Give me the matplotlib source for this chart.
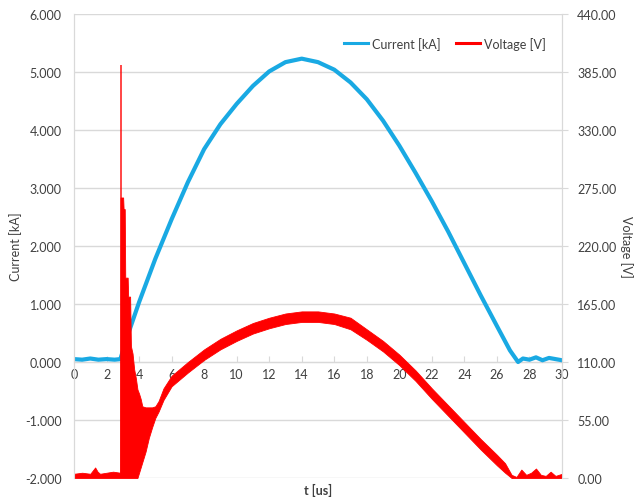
import numpy as np
import matplotlib
matplotlib.use('Agg')
import matplotlib.pyplot as plt
from matplotlib.lines import Line2D

plt.rcParams['font.family'] = ['Lato', 'DejaVu Sans']
plt.rcParams['axes.unicode_minus'] = False

# current trace [kA]
t_cur = [0.0, 0.5, 1.0, 1.5, 2.0, 2.5, 2.85, 3.35, 4.0, 5.0, 6.0, 7.0, 8.0, 9.0,
         10.0, 11.0, 12.0, 13.0, 14.0, 15.0, 16.0, 17.0, 18.0, 19.0, 20.0, 21.0,
         22.0, 23.0, 24.0, 25.0, 26.0, 26.8, 27.3, 27.6, 28.0, 28.4, 28.8, 29.2,
         29.6, 30.0]
i_cur = [0.05, 0.04, 0.06, 0.04, 0.05, 0.04, 0.05, 0.50, 1.03, 1.78, 2.46, 3.10,
         3.67, 4.10, 4.45, 4.76, 5.01, 5.17, 5.23, 5.17, 5.04, 4.82, 4.53, 4.16,
         3.73, 3.26, 2.77, 2.25, 1.70, 1.15, 0.62, 0.20, 0.00, 0.06, 0.04, 0.08,
         0.03, 0.07, 0.05, 0.03]

# voltage trace [V]: lower / upper edge of the noisy band
t_volt = [0.0, 0.5, 1.0, 1.3, 1.45, 1.6, 2.0, 2.4, 2.84, 2.86, 2.90, 3.02, 3.05,
          3.12, 3.15, 3.30, 3.33, 3.45, 3.50, 3.60, 3.70, 3.80, 3.90, 4.00, 4.10,
          4.20, 4.40, 4.60, 4.80, 5.00, 5.20, 5.50, 6.0, 7.0, 8.0, 9.0, 10.0,
          11.0, 12.0, 13.0, 14.0, 15.0, 16.0, 17.0, 18.0, 19.0, 20.0, 21.0, 22.0,
          23.0, 24.0, 25.0, 26.0, 26.5, 26.9, 27.2, 27.5, 27.8, 28.1, 28.4, 28.7,
          29.0, 29.3, 29.6, 30.0]
v_low = [0, 0, 0, 0, 0, 0, 0, 0, 0, 0, 0, 0, 0,
         0, 0, 0, 0, 0, 0, 0, 0, 0, 0, 5, 10,
         15, 25, 38, 48, 57, 63, 74, 87, 100, 112, 122, 130,
         137, 142, 146, 148, 148, 146, 141, 131, 120, 107, 92, 75,
         59, 43, 27, 12, 5, 0, 0, 0, 0, 0, 0, 0,
         0, 0, 0, 0]
v_high = [4, 5, 4, 10, 6, 4, 5, 6, 5, 266, 266, 266, 255,
          255, 190, 190, 172, 172, 125, 118, 103, 95, 84, 80, 75,
          68, 67, 67, 67, 68, 73, 85, 97, 110, 122, 132, 140,
          147, 152, 156, 158, 158, 156, 152, 141, 130, 117, 102, 85,
          69, 53, 37, 22, 14, 3, 1, 8, 3, 5, 9, 3,
          2, 6, 2, 4]
spike_t = 2.86
spike_v = 392

x_ticks = np.arange(0, 31, 2)
cur_ticks = np.arange(-2, 7, 1)
volt_ticks = np.arange(0, 441, 55)

blue = '#19a9e3'
red = '#ff0000'
grey = '#d9d9d9'
txt = '#404040'
fs = 9

fig = plt.figure(figsize=(6.35, 5.02), dpi=100)
ax = fig.add_axes([74 / 635, 1 - 479 / 502, 488 / 635, 464 / 502])
ax2 = ax.twinx()

ax.plot(t_cur, i_cur, color=blue, lw=3.0, solid_joinstyle='round')
ax2.fill_between(t_volt, v_low, v_high, color=red, lw=0.6, edgecolor=red)
ax2.vlines(spike_t, 0, spike_v, color=red, lw=1.2, alpha=0.85)

ax.set_xlim(0, 30)
ax.set_ylim(-2, 6)
ax2.set_ylim(0, 440)
ax.set_xticks(x_ticks)
ax.set_yticks(cur_ticks)
ax2.set_yticks(volt_ticks)
ax.set_yticklabels(['%.3f' % v for v in cur_ticks])
ax2.set_yticklabels(['%.2f' % v for v in volt_ticks])

ax.grid(axis='y', color=grey, lw=1.0)
ax.set_axisbelow(True)

for a in (ax, ax2):
    a.spines['top'].set_visible(False)
    a.spines['left'].set_color(grey)
    a.spines['right'].set_color(grey)
    a.spines['bottom'].set_visible(False)
ax.spines['bottom'].set_visible(True)
ax.spines['bottom'].set_position(('data', 0))
ax.spines['bottom'].set_color(grey)
ax.spines['bottom'].set_zorder(0)

ax.tick_params(axis='x', direction='in', length=4, color=grey, labelsize=fs,
               labelcolor=txt, pad=4)
ax.tick_params(axis='y', length=0, labelsize=fs, labelcolor=txt, pad=9)
ax2.tick_params(axis='y', direction='out', length=4, color=grey, labelsize=fs,
                labelcolor=txt, pad=7)

ax.set_ylabel('Current [kA]', fontsize=fs, color=txt)
ax.yaxis.set_label_coords(-0.107, 0.5)
ax2.set_ylabel('Voltage [V]', fontsize=fs, color=txt, rotation=270, va='center')
ax2.yaxis.set_label_coords(1.132, 0.5)
ax.text(0.5, -0.024, 't [us]', transform=ax.transAxes, ha='center', va='center',
        fontsize=fs, fontweight='bold', color=txt)

handles = [Line2D([], [], color=blue, lw=2.2), Line2D([], [], color=red, lw=2.2)]
ax2.legend(handles, ['Current [kA]', 'Voltage [V]'], loc='upper right',
           bbox_to_anchor=(0.99, 0.975), ncol=2, frameon=False, fontsize=fs,
           handlelength=1.9, handletextpad=0.3, columnspacing=1.3,
           labelcolor=txt)

fig.savefig('out.png', dpi=100)
